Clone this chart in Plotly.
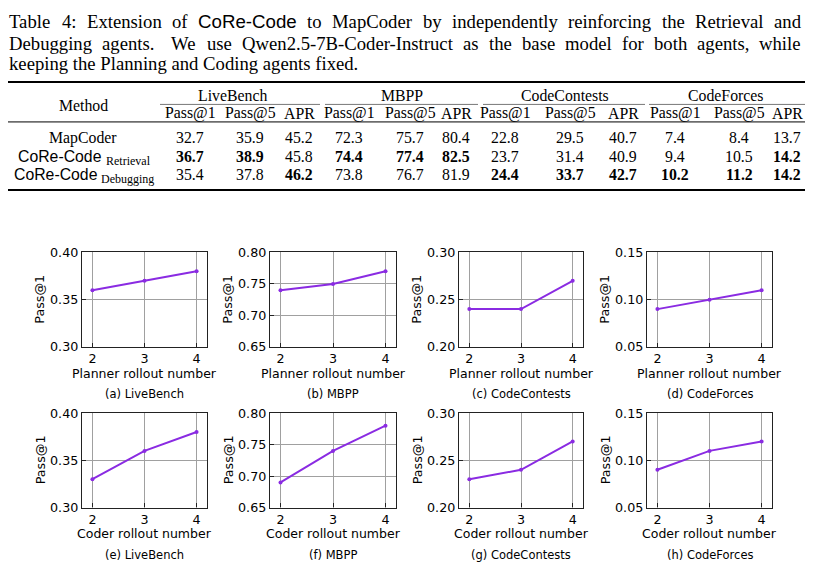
import plotly.graph_objects as go

W, H = 815, 573

# ---------------- data ----------------
caption_line1 = ["Table", "4:", "Extension", "of", "CoRe-Code", "to", "MapCoder", "by", "independently",
                 "reinforcing", "the", "Retrieval", "and"]
caption_line2 = ["Debugging", "agents.", "We", "use", "Qwen2.5-7B-Coder-Instruct", "as", "the", "base", "model",
                 "for", "both", "agents,", "while"]
caption_line3 = "keeping the Planning and Coding agents fixed."
sans_words = ["CoRe-Code"]

benchmarks = ["LiveBench", "MBPP", "CodeContests", "CodeForces"]
metrics = ["Pass@1", "Pass@5", "APR"]
method_names = ["MapCoder", "CoRe-Code", "CoRe-Code"]
method_subs = ["", "Retrieval", "Debugging"]
mapcoder_vals = [32.7, 35.9, 45.2, 72.3, 75.7, 80.4, 22.8, 29.5, 40.7, 7.4, 8.4, 13.7]
retrieval_vals = [36.7, 38.9, 45.8, 74.4, 77.4, 82.5, 23.7, 31.4, 40.9, 9.4, 10.5, 14.2]
debugging_vals = [35.4, 37.8, 46.2, 73.8, 76.7, 81.9, 24.4, 33.7, 42.7, 10.2, 11.2, 14.2]

rollouts = [2, 3, 4]
planner_livebench = [0.36, 0.37, 0.38]
planner_mbpp = [0.74, 0.75, 0.77]
planner_codecontests = [0.24, 0.24, 0.27]
planner_codeforces = [0.09, 0.10, 0.11]
coder_livebench = [0.33, 0.36, 0.38]
coder_mbpp = [0.69, 0.74, 0.78]
coder_codecontests = [0.23, 0.24, 0.27]
coder_codeforces = [0.09, 0.11, 0.12]
y_ticks = {
    "LiveBench": [0.30, 0.35, 0.40],
    "MBPP": [0.65, 0.70, 0.75, 0.80],
    "CodeContests": [0.20, 0.25, 0.30],
    "CodeForces": [0.05, 0.10, 0.15],
}

# ---------------- helpers ----------------
def px(x):
    return x / W

def py(y):
    return 1 - y / H

SERIF = "Liberation Serif"
SANS = "Liberation Sans"
PLOT_FONT = "DejaVu Sans"

# approximate glyph advance widths (per 1000 em) for Times / Helvetica metrics
TIMES_W = {" ": 250, ".": 250, ",": 250, ":": 278, "-": 333, "@": 921}
TIMES_W.update({d: 500 for d in "0123456789"})
TIMES_W.update(dict(zip("ABCDEFGHIJKLMNOPQRSTUVWXYZ",
                        [722, 667, 667, 722, 611, 556, 722, 722, 333, 389, 722, 611, 889, 722, 722, 556, 722,
                         667, 556, 611, 722, 722, 944, 722, 722, 611])))
TIMES_W.update(dict(zip("abcdefghijklmnopqrstuvwxyz",
                        [444, 500, 444, 500, 444, 333, 500, 500, 278, 278, 500, 278, 778, 500, 500, 500, 500,
                         333, 389, 278, 500, 500, 722, 500, 500, 444])))
HELV_W = {"C": 722, "o": 556, "R": 722, "e": 556, "-": 333, "d": 556}

def tw(s, size, sans=False):
    table = HELV_W if sans else TIMES_W
    return sum(table.get(ch, 500) for ch in s) / 1000 * size

fig = go.Figure()
annotations = []
shapes = []

def text(x, y, s, size, family=SERIF, xanchor="center", yanchor="middle", angle=0, color="black"):
    annotations.append(dict(x=px(x), y=py(y), xref="paper", yref="paper", text=s, showarrow=False,
                            xanchor=xanchor, yanchor=yanchor, textangle=angle, borderpad=0,
                            font=dict(family=family, size=size, color=color)))

def hline(x0, x1, y, width, color="black"):
    shapes.append(dict(type="line", xref="paper", yref="paper", x0=px(x0), x1=px(x1), y0=py(y), y1=py(y),
                       line=dict(color=color, width=width)))

# ---------------- caption (justified lines) ----------------
CAP_SIZE = 18.7
LEFT, RIGHT = 8, 800
cap_y = [14, 36, 57]

def justified(words, y):
    widths = [tw(w, CAP_SIZE, w in sans_words) for w in words]
    weights = [1.6 if words[i].endswith(".") else 1.0 for i in range(len(words) - 1)]
    extra = (RIGHT - LEFT) - sum(widths)
    unit = extra / sum(weights)
    x = LEFT
    for i, w in enumerate(words):
        text(x, y, w, CAP_SIZE, SANS if w in sans_words else SERIF, xanchor="left")
        x += widths[i]
        if i < len(weights):
            x += unit * weights[i]

justified(caption_line1, cap_y[0])
justified(caption_line2, cap_y[1])
text(LEFT, cap_y[2], caption_line3, CAP_SIZE, SERIF, xanchor="left")

# ---------------- table ----------------
TSIZE = 15.8
col_x = [190, 250, 299, 349, 410, 456, 505, 570, 623, 675, 739, 787]
group_x = [232, 402, 565, 725]
group_lines = [(160, 320), (325, 478), (483, 645), (649, 805)]
row_y = [133, 152, 171]
method_x = 83

hline(8, 805, 76, 2)
text(method_x, 100, "Method", TSIZE)
for g, name in enumerate(benchmarks):
    text(group_x[g], 90, name, TSIZE)
    hline(group_lines[g][0], group_lines[g][1], 99, 1, "#777777")
for c in range(12):
    text(col_x[c], 108, metrics[c % 3], TSIZE)
hline(8, 805, 117, 1)

rows = [mapcoder_vals, retrieval_vals, debugging_vals]
col_max = [max(r[c] for r in rows) for c in range(12)]
for r, vals in enumerate(rows):
    if method_subs[r]:
        main_w = tw(method_names[r], TSIZE, sans=True)
        sub_w = tw(method_subs[r], 12)
        total = main_w + 4 + sub_w
        x0 = method_x - total / 2
        text(x0, row_y[r], method_names[r], TSIZE, SANS, xanchor="left")
        text(x0 + main_w + 4, row_y[r] + 5, method_subs[r], 12, SERIF, xanchor="left")
    else:
        text(method_x, row_y[r], method_names[r], TSIZE)
    for c, v in enumerate(vals):
        s = f"{v:.1f}"
        if v == col_max[c]:
            s = f"<b>{s}</b>"
        text(col_x[c], row_y[r], s, TSIZE)
hline(8, 805, 187, 2)

# ---------------- line plots ----------------
panels = [
    ("Planner", "LiveBench", planner_livebench, "(a) LiveBench"),
    ("Planner", "MBPP", planner_mbpp, "(b) MBPP"),
    ("Planner", "CodeContests", planner_codecontests, "(c) CodeContests"),
    ("Planner", "CodeForces", planner_codeforces, "(d) CodeForces"),
    ("Coder", "LiveBench", coder_livebench, "(e) LiveBench"),
    ("Coder", "MBPP", coder_mbpp, "(f) MBPP"),
    ("Coder", "CodeContests", coder_codecontests, "(g) CodeContests"),
    ("Coder", "CodeForces", coder_codeforces, "(h) CodeForces"),
]
col_lr = [(82, 207), (270, 396), (459, 583), (647, 772)]
row_tb = [(251, 348), (416, 513)]

layout_axes = {}
for i, (role, bench, vals, cap) in enumerate(panels):
    k = i + 1
    r, c = divmod(i, 4)
    l, rt = col_lr[c]
    t, b = row_tb[r]
    xa = f"x{k}" if k > 1 else "x"
    ya = f"y{k}" if k > 1 else "y"
    fig.add_trace(go.Scatter(x=rollouts, y=vals, mode="lines+markers", xaxis=xa, yaxis=ya,
                             line=dict(color="#8a2be2", width=2), marker=dict(size=4, color="#8a2be2"),
                             showlegend=False, hoverinfo="skip"))
    ticks = y_ticks[bench]
    common = dict(showline=True, mirror=True, linecolor="#222222", linewidth=1.3,
                  ticks="inside", ticklen=4, tickcolor="#222222",
                  showgrid=True, gridcolor="#a0a0a0", gridwidth=1, zeroline=False,
                  tickfont=dict(family=PLOT_FONT, size=12.7, color="black"), fixedrange=True)
    layout_axes[f"xaxis{k if k > 1 else ''}"] = dict(domain=[px(l), px(rt)], anchor=ya, range=[1.8, 4.2],
                                                   tickvals=rollouts, ticktext=[str(v) for v in rollouts],
                                                   ticklabelstandoff=0, **common)
    layout_axes[f"yaxis{k if k > 1 else ''}"] = dict(domain=[py(b), py(t)], anchor=xa,
                                                   range=[ticks[0], ticks[-1]], tickvals=ticks,
                                                   ticktext=[f"{v:.2f}" for v in ticks], **common)
    text(l - 42, (t + b) / 2, "Pass@1", 12.7, PLOT_FONT, angle=-90)
    text((l + rt) / 2, b + 27, f"{role} rollout number", 12.5, PLOT_FONT)
    text((l + rt) / 2, b + 48.5, cap, 11.5, PLOT_FONT)

fig.update_layout(width=W, height=H, margin=dict(l=0, r=0, t=0, b=0),
                  paper_bgcolor="white", plot_bgcolor="white",
                  annotations=annotations, shapes=shapes, **layout_axes)
fig.write_html("out.html")
